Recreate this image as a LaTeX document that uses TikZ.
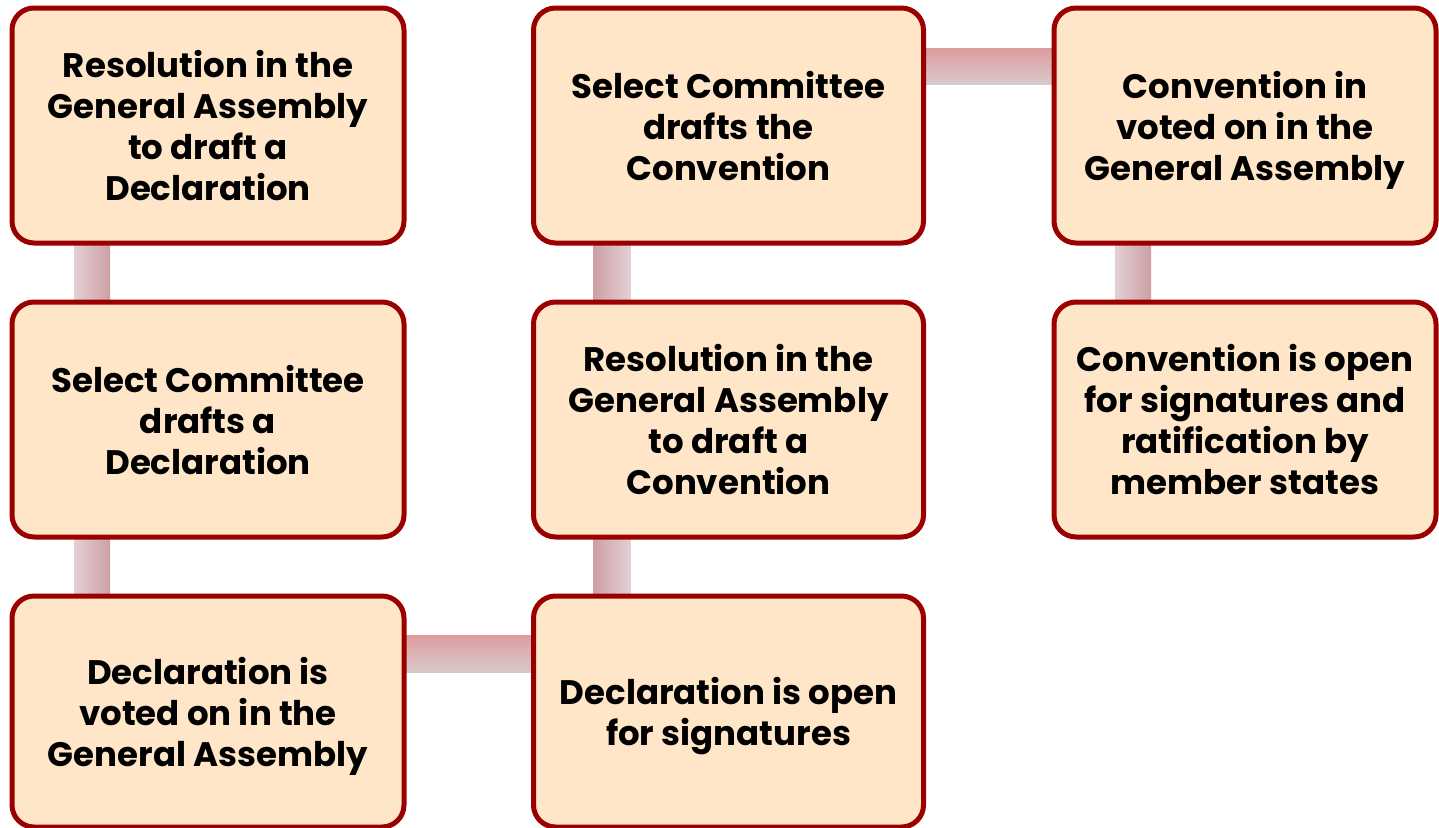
\documentclass[tikz,border=0pt]{standalone}
\usepackage{fontspec}
\setmainfont{Poppins}[BoldFont={* Bold}]
\usetikzlibrary{backgrounds,calc}
\definecolor{boxfill}{HTML}{FFE6C8}
\definecolor{boxline}{HTML}{9B0000}
\definecolor{cdark}{HTML}{CCA0A5}
\definecolor{clight}{HTML}{E3D0D3}
\definecolor{cred}{HTML}{DE9C9E}
\definecolor{cgrey}{HTML}{D8C9CB}
\tikzset{
  stagebox/.style={draw=boxline, fill=boxfill, line width=5pt, rounded corners=22pt,
    align=center, inner sep=0pt, outer sep=0pt, text depth=0pt,
    font=\fontsize{34}{41}\selectfont\bfseries},
}
\begin{document}
\begin{tikzpicture}[x=1pt,y=-1pt]
\useasboundingbox (0,0) rectangle (1439,827);
% column 1
\node[stagebox, minimum width=392pt, minimum height=235pt] (a1) at (208,125.5) {Resolution in the\\General Assembly\\to draft a\\Declaration};
\node[stagebox, minimum width=392pt, minimum height=235pt] (a2) at (208,419.5) {Select Committee\\drafts a\\Declaration};
\node[stagebox, minimum width=392pt, minimum height=231pt] (a3) at (208,711.5) {Declaration is\\voted on in the\\General Assembly};
% column 2
\node[stagebox, minimum width=390pt, minimum height=231pt] (b3) at (728.5,711.5) {Declaration is open\\for signatures};
\node[stagebox, minimum width=390pt, minimum height=235pt] (b2) at (728.5,419.5) {Resolution in the\\General Assembly\\to draft a\\Convention};
\node[stagebox, minimum width=390pt, minimum height=235pt] (b1) at (728.5,125.5) {Select Committee\\drafts the\\Convention};
% column 3
\node[stagebox, minimum width=382pt, minimum height=235pt] (c1) at (1245,125.5) {Convention in\\voted on in the\\General Assembly};
\node[stagebox, minimum width=382pt, minimum height=235pt] (c2) at (1245,419.5) {Convention is open\\for signatures and\\ratification by\\member states};
\begin{pgfonlayer}{background}
  \shade[left color=clight, right color=cdark] ($(a1.south west)+(62,0)$) rectangle ($(a2.north west)+(98,0)$);
  \shade[left color=clight, right color=cdark] ($(a2.south west)+(62,0)$) rectangle ($(a3.north west)+(98,0)$);
  \shade[top color=cred, bottom color=cgrey] ($(a3.north east)+(0,39)$) rectangle ($(b3.north west)+(0,76)$);
  \shade[left color=cdark, right color=clight] ($(b3.north west)+(60,0)$) rectangle ($(b2.south west)+(97,0)$);
  \shade[left color=cdark, right color=clight] ($(b2.north west)+(60,0)$) rectangle ($(b1.south west)+(97,0)$);
  \shade[top color=cred, bottom color=cgrey] ($(b1.north east)+(0,40)$) rectangle ($(c1.north west)+(0,76)$);
  \shade[left color=clight, right color=cdark] ($(c1.south west)+(61,0)$) rectangle ($(c2.north west)+(97,0)$);
\end{pgfonlayer}
\end{tikzpicture}
\end{document}
